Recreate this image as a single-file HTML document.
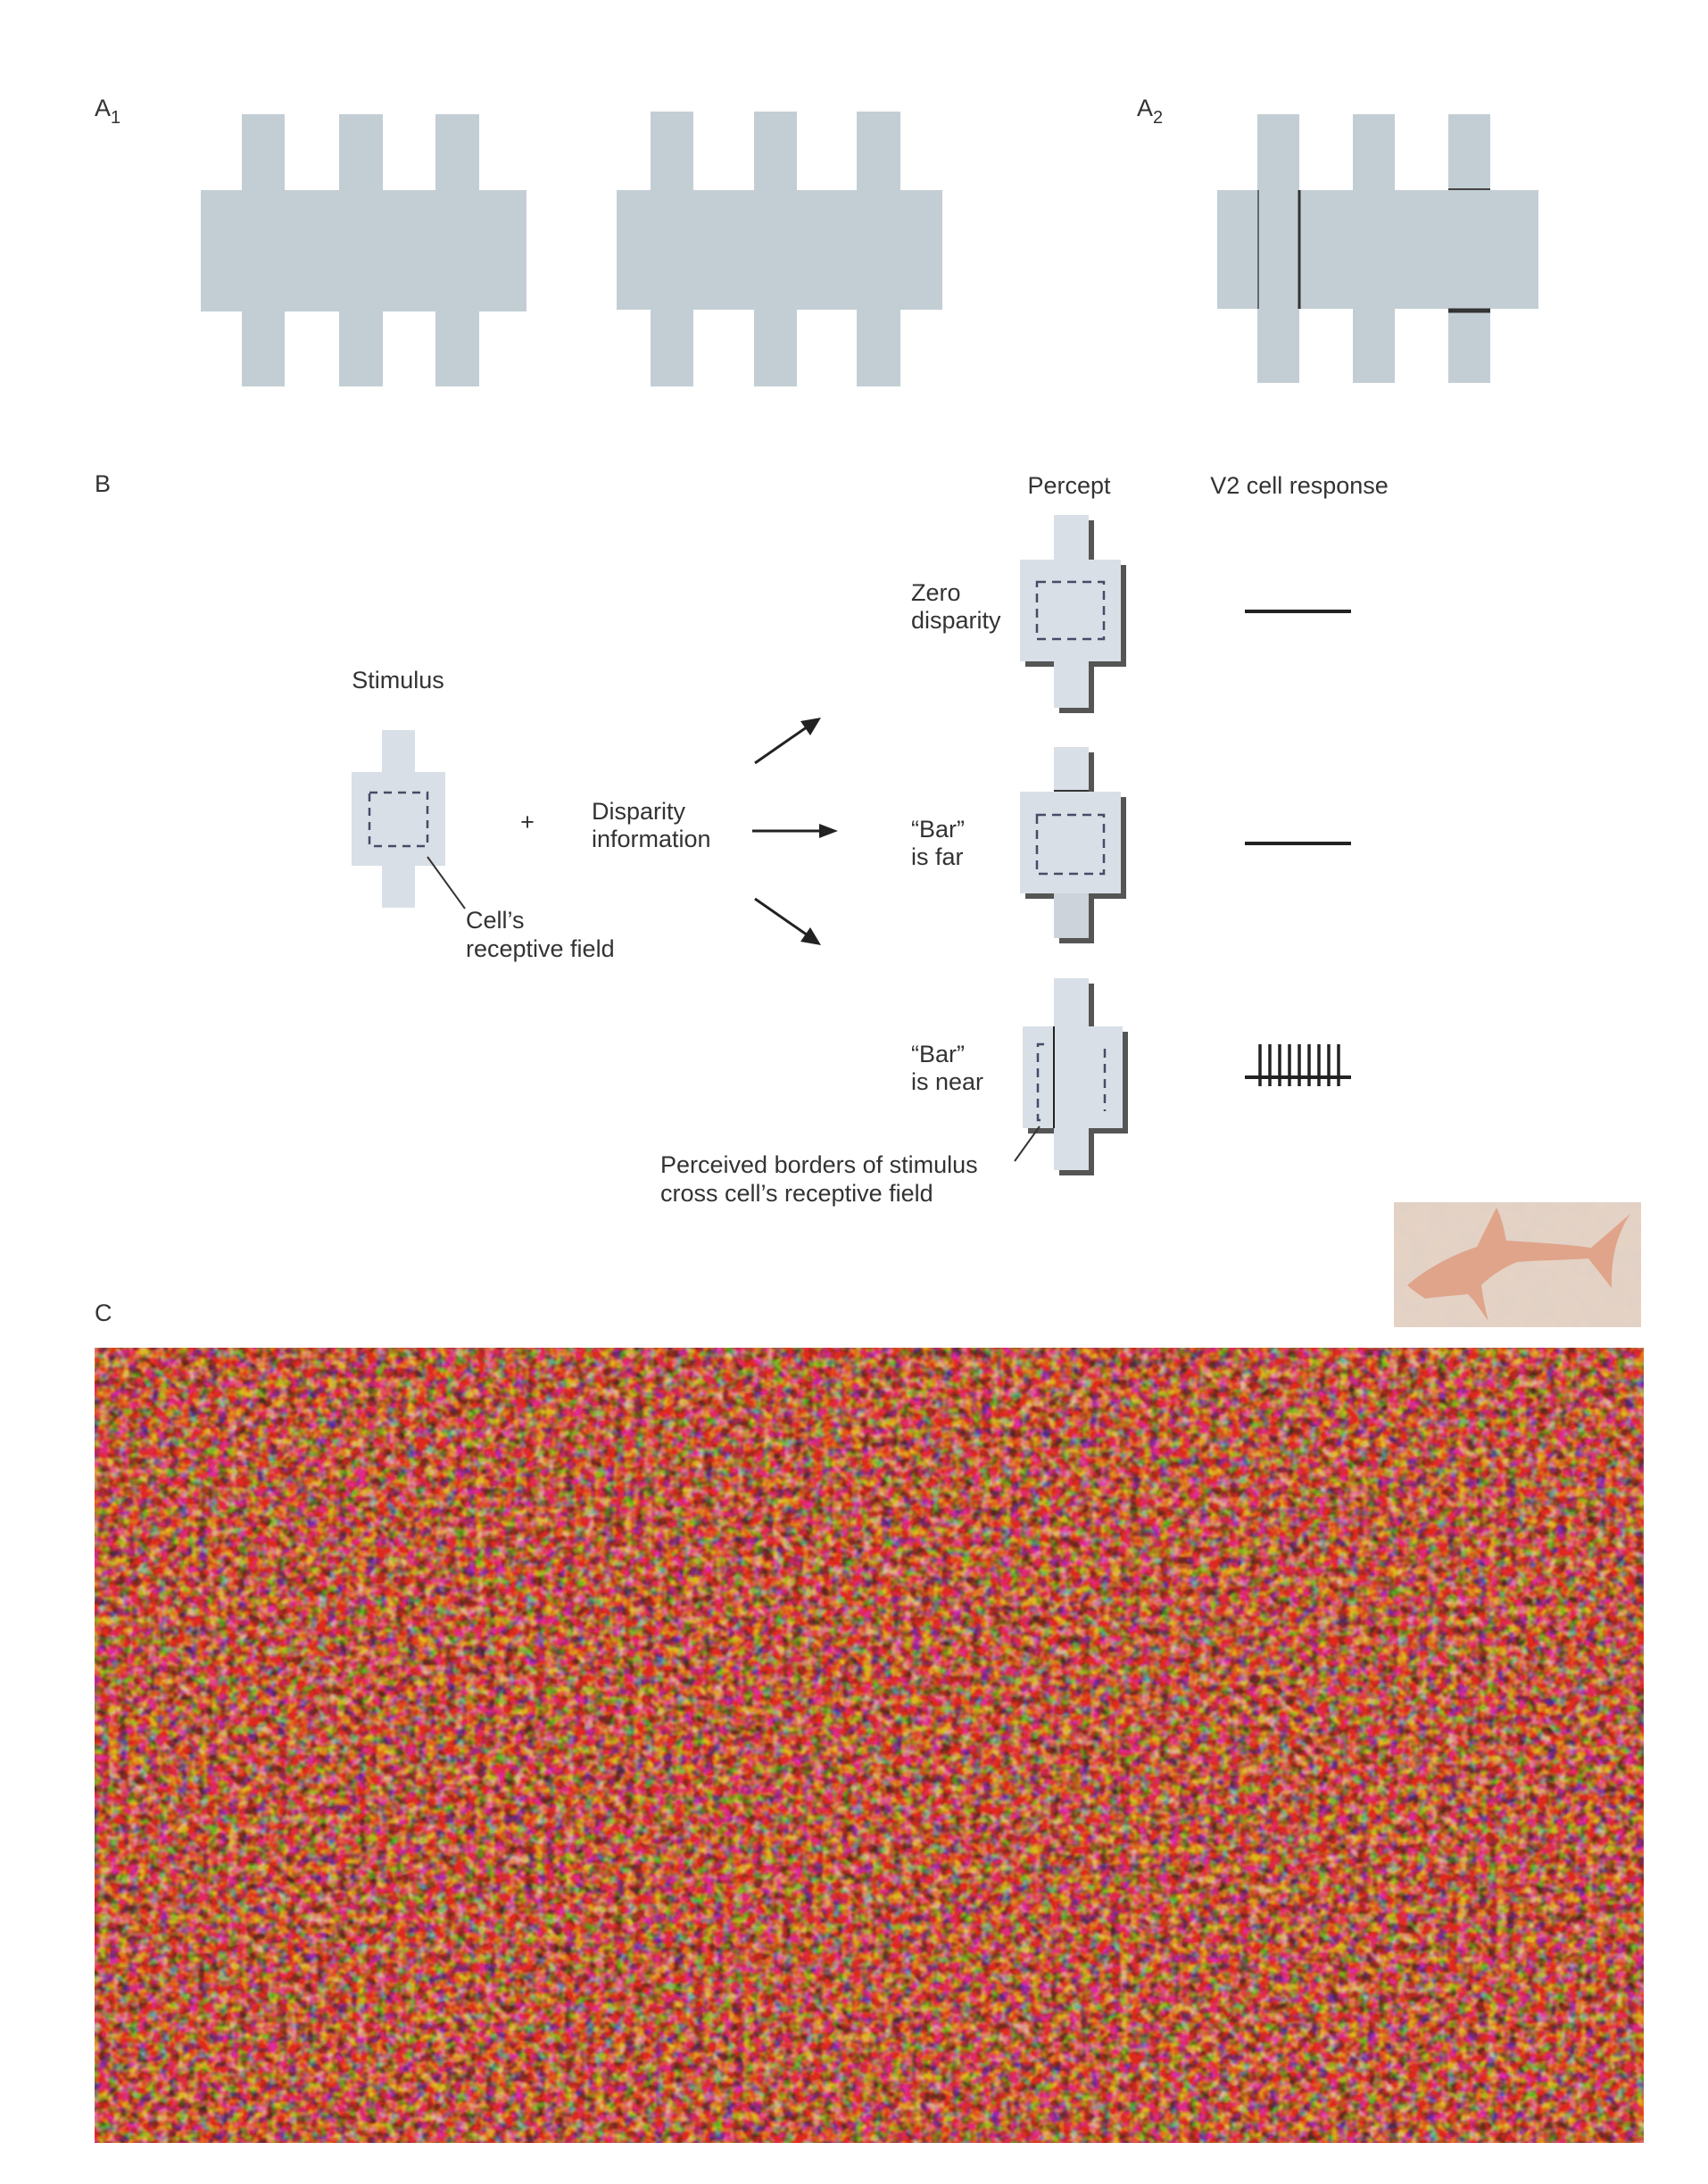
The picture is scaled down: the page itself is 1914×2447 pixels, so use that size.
<!DOCTYPE html>
<html><head><meta charset="utf-8"><style>
html,body{margin:0;padding:0;background:#fff;}
svg{display:block;}
text{font-family:"Liberation Sans",sans-serif;fill:#333;font-size:27px;}
</style></head><body>
<svg width="1914" height="2447" viewBox="0 0 1914 2447" xmlns="http://www.w3.org/2000/svg">
<defs>
<filter id="nz" x="0" y="0" width="100%" height="100%" color-interpolation-filters="sRGB">
<feTurbulence type="fractalNoise" baseFrequency="0.09" numOctaves="2" seed="3"/>
<feColorMatrix values="2.4 0 0 0 -0.45  0 2.4 0 0 -0.85  0 0 2.4 0 -0.95  0 0 0 0 1"/>
</filter>
<filter id="nz2" x="0" y="0" width="100%" height="100%" color-interpolation-filters="sRGB">
<feTurbulence type="fractalNoise" baseFrequency="0.05" numOctaves="2" seed="7"/>
<feColorMatrix values="0 0 0 0 0.85  0 0 0 0 0.8  0 0 0 0 0.78  0.6 0 0 0 -0.1"/>
</filter>
</defs>
<g fill="#c3ced4">
<rect x="225" y="213" width="365" height="136"/>
<rect x="271" y="128" width="48" height="305"/>
<rect x="380" y="128" width="49" height="305"/>
<rect x="488" y="128" width="49" height="305"/>
<rect x="691" y="213" width="365" height="134"/>
<rect x="729" y="125" width="48" height="308"/>
<rect x="845" y="125" width="48" height="308"/>
<rect x="960" y="125" width="49" height="308"/>
<rect x="1364" y="213" width="360" height="133"/>
<rect x="1409" y="128" width="47" height="301"/>
<rect x="1516" y="128" width="47" height="301"/>
<rect x="1623" y="128" width="47" height="301"/>
</g>
<line x1="1410" y1="213" x2="1410" y2="346" stroke="#444" stroke-width="1.5"/>
<line x1="1456" y1="213" x2="1456" y2="346" stroke="#333" stroke-width="3"/>
<line x1="1623" y1="212" x2="1670" y2="212" stroke="#444" stroke-width="2"/>
<line x1="1623" y1="348" x2="1670" y2="348" stroke="#333" stroke-width="5"/>
<text x="106" y="130" font-size="30">A<tspan font-size="20" dy="8">1</tspan></text>
<text x="1274" y="130" font-size="30">A<tspan font-size="20" dy="8">2</tspan></text>

<text x="106" y="551" font-size="30">B</text>
<text x="1198" y="553" text-anchor="middle">Percept</text>
<text x="1456" y="553" text-anchor="middle">V2 cell response</text>
<text x="446" y="771" text-anchor="middle">Stimulus</text>

<g fill="#d9dfe6">
<rect x="428" y="818" width="37" height="199"/>
<rect x="394" y="865" width="105" height="105"/>
</g>
<rect x="414" y="888" width="65" height="60" fill="none" stroke="#444c66" stroke-width="2.5" stroke-dasharray="9,7"/>
<line x1="479" y1="960" x2="521" y2="1018" stroke="#333" stroke-width="2"/>
<text x="522" y="1040">Cell’s</text>
<text x="522" y="1072">receptive field</text>
<text x="591" y="930" text-anchor="middle" font-size="24">+</text>
<text x="663" y="918">Disparity</text>
<text x="663" y="949">information</text>

<g stroke="#222" stroke-width="3" fill="#222">
<line x1="846" y1="855" x2="908" y2="812"/>
<line x1="843" y1="931" x2="924" y2="931"/>
<line x1="846" y1="1007" x2="908" y2="1050"/>
</g>
<polygon points="920,804 897,808 908,824" fill="#222"/>
<polygon points="939,931 918,923 918,939" fill="#222"/>
<polygon points="920,1059 908,1039 897,1055" fill="#222"/>

<g fill="#555">
<rect x="1187" y="583" width="39" height="216"/>
<rect x="1149" y="633" width="113" height="114"/>
</g>
<g fill="#d9dfe6">
<rect x="1181" y="577" width="39" height="216"/>
<rect x="1143" y="627" width="113" height="114"/>
</g>
<rect x="1162" y="652" width="75" height="64" fill="none" stroke="#444c66" stroke-width="2.5" stroke-dasharray="10,7"/>
<text x="1021" y="673">Zero</text>
<text x="1021" y="704">disparity</text>
<line x1="1395" y1="685" x2="1514" y2="685" stroke="#222" stroke-width="4"/>

<g fill="#555">
<rect x="1187" y="843" width="39" height="214"/>
<rect x="1149" y="893" width="113" height="114"/>
</g>
<rect x="1181" y="837" width="39" height="50" fill="#d9dfe6"/>
<rect x="1181" y="1001" width="39" height="50" fill="#cdd3da"/>
<rect x="1143" y="887" width="113" height="114" fill="#d9dfe6"/>
<line x1="1181" y1="886" x2="1220" y2="886" stroke="#333" stroke-width="2"/>
<rect x="1162" y="913" width="75" height="66" fill="none" stroke="#444c66" stroke-width="2.5" stroke-dasharray="10,7"/>
<text x="1021" y="938">“Bar”</text>
<text x="1021" y="969">is far</text>
<line x1="1395" y1="945" x2="1514" y2="945" stroke="#222" stroke-width="4"/>

<g fill="#555">
<rect x="1152" y="1156" width="35" height="114"/>
<rect x="1226" y="1156" width="38" height="114"/>
<rect x="1187" y="1102" width="39" height="215"/>
</g>
<g fill="#d9dfe6">
<rect x="1146" y="1150" width="35" height="114"/>
<rect x="1220" y="1150" width="38" height="114"/>
</g>
<rect x="1181" y="1096" width="39" height="215" fill="#d9dfe6"/>
<line x1="1181" y1="1150" x2="1181" y2="1264" stroke="#222" stroke-width="2"/>
<path d="M1170 1170 H1163 V1255 H1170" fill="none" stroke="#444c66" stroke-width="2.5" stroke-dasharray="10,7"/>
<line x1="1238" y1="1175" x2="1238" y2="1245" stroke="#444c66" stroke-width="2.5" stroke-dasharray="10,7"/>
<text x="1021" y="1190">“Bar”</text>
<text x="1021" y="1221">is near</text>
<line x1="1137" y1="1301" x2="1165" y2="1262" stroke="#333" stroke-width="2"/>
<text x="740" y="1314">Perceived borders  of stimulus</text>
<text x="740" y="1346">cross cell’s receptive field</text>
<line x1="1395" y1="1207" x2="1514" y2="1207" stroke="#222" stroke-width="4"/>
<g stroke="#222" stroke-width="3.5">
<line x1="1412" y1="1170" x2="1412" y2="1217"/>
<line x1="1423" y1="1170" x2="1423" y2="1217"/>
<line x1="1434" y1="1170" x2="1434" y2="1217"/>
<line x1="1445" y1="1170" x2="1445" y2="1217"/>
<line x1="1456" y1="1170" x2="1456" y2="1217"/>
<line x1="1467" y1="1170" x2="1467" y2="1217"/>
<line x1="1478" y1="1170" x2="1478" y2="1217"/>
<line x1="1489" y1="1170" x2="1489" y2="1217"/>
<line x1="1500" y1="1170" x2="1500" y2="1217"/>
</g>

<text x="106" y="1480" font-size="30">C</text>
<rect x="1562" y="1347" width="277" height="140" fill="#e6d3c4"/>
<rect x="1562" y="1347" width="277" height="140" filter="url(#nz2)"/>
<path d="M1577 1440 C1600 1420 1630 1405 1655 1397 L1677 1353 C1685 1370 1686 1382 1688 1390 C1720 1392 1755 1394 1783 1398 L1827 1360 C1810 1385 1805 1415 1806 1443 L1780 1410 C1750 1412 1720 1412 1700 1414 C1685 1420 1670 1430 1660 1440 C1662 1455 1665 1470 1668 1480 C1660 1470 1655 1460 1645 1450 C1625 1452 1610 1453 1597 1455 C1590 1450 1582 1445 1577 1440 Z" fill="#dfa48a"/>
<rect x="106" y="1510" width="1736" height="891" fill="#b85c42"/>
<rect x="106" y="1510" width="1736" height="891" filter="url(#nz)" opacity="0.55"/>
</svg>
</body></html>
